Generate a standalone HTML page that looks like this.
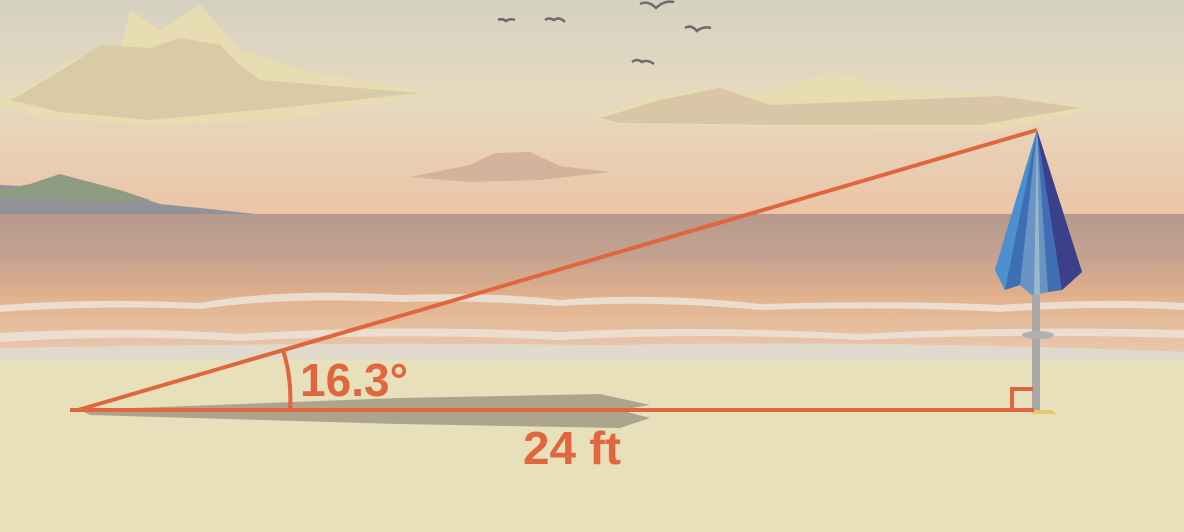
<!DOCTYPE html>
<html><head><meta charset="utf-8"><style>
html,body{margin:0;padding:0;width:1184px;height:532px;overflow:hidden;background:#e7e0ba}
svg{display:block}
text{font-family:"Liberation Sans",sans-serif;font-weight:bold}
</style></head><body>
<svg width="1184" height="532" viewBox="0 0 1184 532">
<defs>
<linearGradient id="sky" x1="0" y1="0" x2="0" y2="1">
<stop offset="0" stop-color="#d5d1c0"/><stop offset="0.45" stop-color="#e6dac0"/><stop offset="1" stop-color="#ecc4a6"/>
</linearGradient>
<linearGradient id="sea" x1="0" y1="0" x2="0" y2="1">
<stop offset="0" stop-color="#b69a8e"/><stop offset="0.5" stop-color="#c4a290"/><stop offset="1" stop-color="#e0b08a"/>
</linearGradient>
<linearGradient id="surf" x1="0" y1="0" x2="0" y2="1">
<stop offset="0" stop-color="#e2b28c"/><stop offset="1" stop-color="#e9c9b0"/>
</linearGradient>
</defs>
<rect x="0" y="0" width="1184" height="216" fill="url(#sky)"/>
<g>
<path d="M0,100 L40,80 L70,60 L120,50 L130,10 L160,30 L200,5 L240,50 L300,70 L430,92 L290,120 L150,125 L40,118 L0,105Z" fill="#e8dcb2"/>
<path d="M20,95 L75,62 L100,45 L150,48 L180,38 L220,45 L240,65 L260,80 L420,93 L280,108 L150,120 L60,112 L10,100Z" fill="#d9cba7"/>
<path d="M590,118 L640,100 L700,88 L760,95 L830,72 L880,85 L1000,95 L1100,108 L1000,130 L800,128 L620,124Z" fill="#e8dcb2"/>
<path d="M600,118 L660,100 L720,88 L770,105 L900,100 L1000,96 L1080,108 L980,125 L800,125 L620,123Z" fill="#d8c6a6"/>
<path d="M410,177 L470,165 L495,153 L530,152 L560,166 L610,172 L540,180 L470,182Z" fill="#d4b29c"/>
</g>
<g fill="none" stroke="#6e6a70" stroke-width="2.5">
<path d="M640,4 q8,-4 16,4 q8,-8 18,-6"/>
<path d="M685,28 q6,-4 12,3 q6,-5 14,-3"/>
<path d="M545,20 q4,-3 9,0 q5,-4 11,2"/>
<path d="M498,20 q4,-2 8,1 q4,-3 9,-1"/>
<path d="M632,62 q5,-4 10,0 q5,-3 12,2"/>
</g>
<path d="M0,185 L20,186 L60,182 L90,188 L130,194 L160,204 L200,208 L265,215 L0,215Z" fill="#92939a"/>
<path d="M0,190 L30,184 L60,174 L90,182 L120,190 L150,200 L110,202 L50,200 L0,198Z" fill="#8e9c82"/>
<rect x="0" y="214" width="1184" height="84" fill="url(#sea)"/>
<rect x="0" y="296" width="1184" height="62" fill="url(#surf)"/>
<g fill="#ece2d6" opacity="0.9">
<path d="M0,305 Q100,298 200,303 Q280,288 400,295 Q500,292 560,300 Q650,292 760,304 Q900,300 1000,305 Q1100,298 1184,303 L1184,310 Q1100,305 1000,312 Q900,306 760,310 Q650,300 560,306 Q480,300 400,302 Q280,297 200,309 Q100,305 0,312Z"/>
<path d="M0,333 Q120,326 240,334 Q400,324 560,332 Q700,325 860,334 Q1000,326 1184,330 L1184,338 Q1000,333 860,340 Q700,332 560,340 Q400,332 240,341 Q120,334 0,342Z"/>
<path d="M0,348 Q300,342 600,345 Q900,340 1184,352 L1184,368 L0,368Z" fill="#e0dcd0"/>
</g>
<rect x="0" y="360" width="1184" height="172" fill="#e7e0ba"/>
<path d="M80,410 L400,398 L600,394 L650,405 L620,410 L650,418 L620,428 L400,424 L90,415Z" fill="#aca48c"/>
<g>
<rect x="1032" y="290" width="8" height="120" fill="#a8a8a8"/>
<ellipse cx="1038" cy="335" rx="16" ry="4" fill="#b0b0b0"/>
<path d="M1034,410 l-3,4 h26 l-6,-4Z" fill="#e3c96a"/>
<path d="M1037,130 L995,270 L1005,290 L1020,285 L1032,295 L1048,292 L1062,290 L1082,272Z" fill="#3f6fb3"/>
<path d="M1037,130 L1020,285 L1032,295 L1048,292Z" fill="#6a94c6"/>
<path d="M1037,130 L1062,290 L1082,272Z" fill="#3c3f8a"/>
<path d="M1037,130 L995,270 L1005,290Z" fill="#4d90d0"/>
<path d="M1037,130 L1034,295 L1040,295Z" fill="#9ab8c8"/>
</g>
<g fill="none" stroke="#e0663f" stroke-width="4">
<line x1="78" y1="410" x2="1037" y2="130"/>
<line x1="70" y1="410" x2="1034" y2="410"/>
<path d="M283,350 Q292,378 290,410"/>
<path d="M1012,410 V389 H1033"/>
</g>
<text x="300" y="396" font-size="46" fill="#e0663f" textLength="108" lengthAdjust="spacingAndGlyphs">16.3°</text>
<text x="523" y="464" font-size="46" fill="#e0663f" textLength="98" lengthAdjust="spacingAndGlyphs">24 ft</text>
</svg>
</body></html>
